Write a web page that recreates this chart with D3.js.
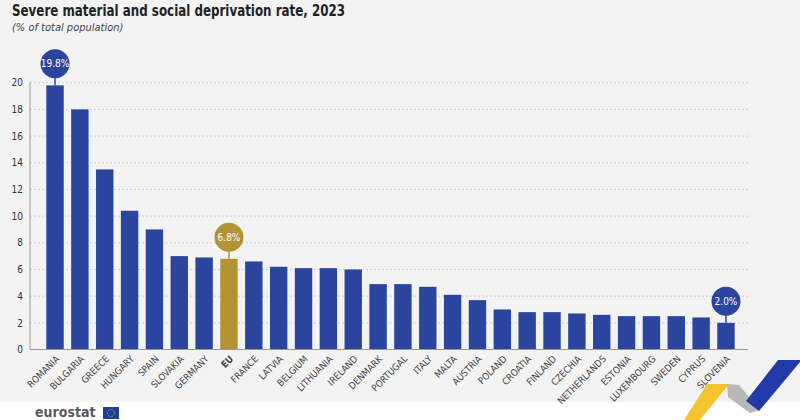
<!DOCTYPE html>
<html>
<head>
<meta charset="utf-8">
<script src="https://cdn.jsdelivr.net/npm/d3@7"></script>
<style>
  html, body { margin: 0; padding: 0; background: #ffffff; }
  svg { display: block; }
  text { font-family: "Liberation Sans Narrow", "DejaVu Sans Condensed", "Roboto", sans-serif; }
</style>
</head>
<body>
<div id="chart"></div>
<script>
const categories = ["ROMANIA","BULGARIA","GREECE","HUNGARY","SPAIN","SLOVAKIA","GERMANY","EU","FRANCE","LATVIA","BELGIUM","LITHUANIA","IRELAND","DENMARK","PORTUGAL","ITALY","MALTA","AUSTRIA","POLAND","CROATIA","FINLAND","CZECHIA","NETHERLANDS","ESTONIA","LUXEMBOURG","SWEDEN","CYPRUS","SLOVENIA"];
const values = [19.8,18.0,13.5,10.4,9.0,7.0,6.9,6.8,6.6,6.2,6.1,6.1,6.0,4.9,4.9,4.7,4.1,3.7,3.0,2.8,2.8,2.7,2.6,2.5,2.5,2.5,2.4,2.0];
const highlighted = ["ROMANIA","EU","SLOVENIA"];
const yTicks = [0,2,4,6,8,10,12,14,16,18,20];
const titleText = "Severe material and social deprivation rate, 2023";
const subtitleText = "(% of total population)";

const W = 800, H = 420;
const BLUE = "#2b449e", GOLD = "#b39334";

const svg = d3.select("#chart").append("svg").attr("width", W).attr("height", H);

// background
svg.append("rect").attr("x",0).attr("y",0).attr("width",W).attr("height",402).attr("fill","#f3f3f3");

// titles
const t = svg.append("text").attr("x",12).attr("y",16).attr("font-size",16.5).attr("font-weight","bold")
  .attr("fill","#222").text(titleText);
t.attr("textLength", 333).attr("lengthAdjust","spacingAndGlyphs");
svg.append("text").attr("x",12).attr("y",31).attr("font-size",11).attr("font-style","italic")
  .attr("fill","#444").text(subtitleText);

const x = d3.scaleBand().domain(categories).range([42.6, 738.4]).paddingInner(0.3).paddingOuter(0.15);
const y = d3.scaleLinear().domain([0,20]).range([349.5, 82.7]);

// gridlines
svg.append("g").selectAll("line").data(yTicks.filter(d => d > 0)).join("line")
  .attr("x1",30).attr("x2",748).attr("y1",d=>y(d)).attr("y2",d=>y(d))
  .attr("stroke","#c8c8c8").attr("stroke-width",0.8).attr("stroke-dasharray","2,2");

// y axis
const yAxis = d3.axisLeft(y).tickValues(yTicks).tickSize(0).tickPadding(7).tickFormat(d3.format("d"));
const gy = svg.append("g").attr("transform","translate(30,0)").call(yAxis);
gy.select(".domain").attr("stroke","#999").attr("d", `M0,${y(20)}V${y(0)}`);
gy.selectAll("text").attr("font-size",10).attr("fill","#333")
  .attr("font-family",'"Liberation Sans Narrow", "DejaVu Sans Condensed", sans-serif');

// bars
svg.append("g").selectAll("rect").data(categories).join("rect")
  .attr("x", d => x(d)).attr("width", x.bandwidth())
  .attr("y", (d,i) => y(values[i])).attr("height", (d,i) => y(0) - y(values[i]))
  .attr("fill", d => d === "EU" ? GOLD : BLUE);

// x axis
const xAxis = d3.axisBottom(x).tickSize(0).tickPadding(0);
const gx = svg.append("g").attr("transform",`translate(0,${y(0)})`).call(xAxis);
gx.select(".domain").attr("stroke","#999").attr("d","M30,0H748");
gx.selectAll(".tick text")
  .attr("font-size",9.5).attr("fill","#444")
  .attr("font-family",'"Liberation Sans Narrow", "DejaVu Sans Condensed", sans-serif')
  .attr("font-weight", d => d === "EU" ? "bold" : "normal")
  .attr("text-anchor","end").attr("dy",0).attr("y",0)
  .attr("transform","translate(5,10) rotate(-45)");

// highlight bubbles
const hl = svg.append("g").selectAll("g").data(highlighted).join("g")
  .attr("transform", d => {
    const i = categories.indexOf(d);
    return `translate(${x(d) + x.bandwidth()/2},${y(values[i])})`;
  });
hl.append("line").attr("x1",0).attr("x2",0).attr("y1",-8).attr("y2",0)
  .attr("stroke", d => d === "EU" ? GOLD : BLUE).attr("stroke-width",1.5);
hl.append("circle").attr("cx",0).attr("cy",-21.5).attr("r",14.5)
  .attr("fill", d => d === "EU" ? GOLD : BLUE);
hl.append("text").attr("x",0).attr("y",-18).attr("text-anchor","middle")
  .attr("font-size",10).attr("fill","#fff")
  .text(d => values[categories.indexOf(d)].toFixed(1) + "%");

// eurostat logo
svg.append("text").attr("x",35).attr("y",416.5).attr("font-size",14).attr("font-weight","bold")
  .attr("fill","#5a5a5a").attr("font-family","Roboto, sans-serif").text("eurostat");
svg.append("rect").attr("x",103).attr("y",407).attr("width",16).attr("height",12).attr("fill","#1f3f9a");
svg.append("circle").attr("cx",111).attr("cy",413).attr("r",3.5).attr("fill","none")
  .attr("stroke","#e8c53a").attr("stroke-width",0.8).attr("stroke-dasharray","0.8,0.8");

// decorative ribbon
const ribbon = [
  {pts:[[707,384],[729,384],[700,420],[684,420]], fill:"#f5c330"},
  {pts:[[727,384],[739,385],[760,410],[750,413],[728,397]], fill:"#b8b8b8"},
  {pts:[[778,360],[800,360],[800,362],[759,411],[746,401]], fill:"#2239a8"}
];
svg.append("g").selectAll("polygon").data(ribbon).join("polygon")
  .attr("points", d => d.pts.map(p => p.join(",")).join(" "))
  .attr("fill", d => d.fill);
</script>
</body>
</html>
